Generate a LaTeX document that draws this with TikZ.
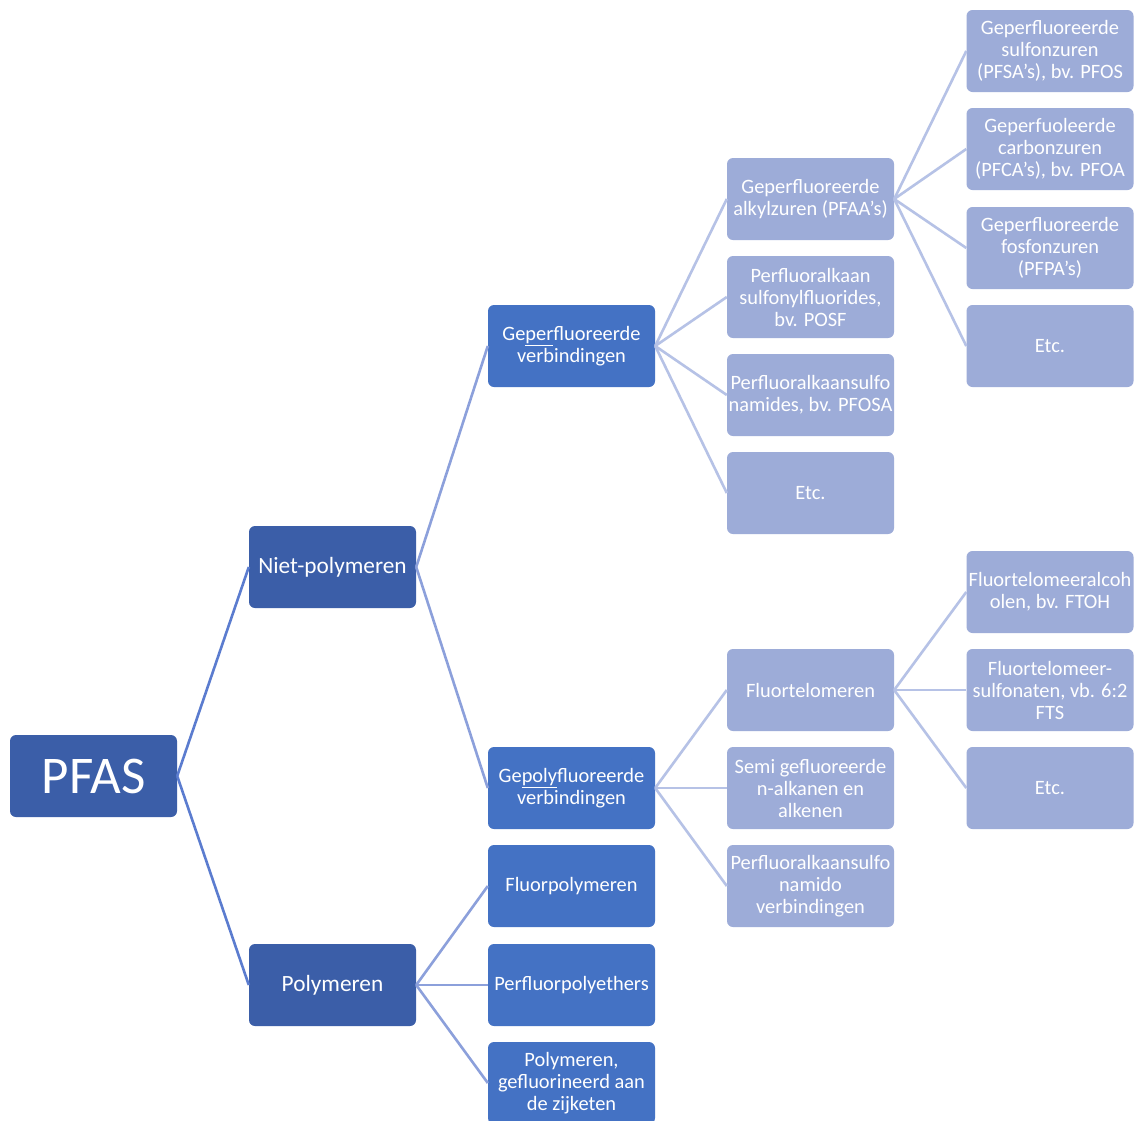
\documentclass[tikz,border=0pt]{standalone}
\usepackage{fontspec}
\setmainfont{Carlito}
\definecolor{cdark}{HTML}{3B5EA8}
\definecolor{cmid}{HTML}{4472C4}
\definecolor{clight}{HTML}{9DACD8}
\definecolor{lineA}{HTML}{5B7CCF}
\definecolor{lineB}{HTML}{8CA0DB}
\definecolor{lineC}{HTML}{B6C2E6}
\tikzset{
  box/.style={rounded corners=6pt, minimum width=167pt, minimum height=82pt, inner sep=0pt, text=white, align=center, font=\fontsize{20.4}{22}\selectfont},
  lzero/.style={box, fill=cdark, font=\fontsize{53}{60}\selectfont},
  lone/.style={box, fill=cdark, font=\fontsize{23.3}{26}\selectfont},
  ltwo/.style={box, fill=cmid},
  lthree/.style={box, fill=clight},
  conA/.style={draw=lineA, line width=2.6pt},
  conB/.style={draw=lineB, line width=2.6pt},
  conC/.style={draw=lineC, line width=2.6pt},
}
\newcommand{\myul}[1]{\underline{#1}}
\begin{document}
\begin{tikzpicture}[x=1pt,y=-1pt]
\clip (0,0) rectangle (1136,1120);
\useasboundingbox (0,0) rectangle (1136,1120);
\fill[white] (0,0) rectangle (1136,1120);
% nodes
\node[lzero] (pfas) at (93.5,776) {PFAS};
\node[lone] (niet) at (332.5,567) {Niet-polymeren};
\node[lone] (poly) at (332.5,985) {Polymeren};
\node[ltwo] (geper) at (571.5,346) {Ge\myul{per}fluoreerde\\verbindingen};
\node[ltwo] (gepoly) at (571.5,788) {Ge\myul{poly}fluoreerde\\verbindingen};
\node[ltwo] (fluorp) at (571.5,886) {Fluorpolymeren};
\node[ltwo] (pfpe) at (571.5,985) {Perfluorpolyethers};
\node[ltwo] (zij) at (571.5,1083) {Polymeren,\\gefluorineerd aan\\de zijketen};
\node[lthree] (pfaa) at (810.5,199) {Geperfluoreerde\\alkylzuren (PFAA’s)};
\node[lthree] (posf) at (810.5,297) {Perfluoralkaan\\sulfonylfluorides,\\bv. POSF};
\node[lthree] (pfosa) at (810.5,395) {Perfluoralkaansulfo\\namides, bv. PFOSA};
\node[lthree] (etc1) at (810.5,493) {Etc.};
\node[lthree] (ftel) at (810.5,690) {Fluortelomeren};
\node[lthree] (semi) at (810.5,788) {Semi gefluoreerde\\n-alkanen en\\alkenen};
\node[lthree] (amido) at (810.5,886) {Perfluoralkaansulfo\\namido\\verbindingen};
\node[lthree] (pfsa) at (1050,51) {Geperfluoreerde\\sulfonzuren\\(PFSA’s), bv. PFOS};
\node[lthree] (pfca) at (1050,149) {Geperfuoleerde\\carbonzuren\\(PFCA’s), bv. PFOA};
\node[lthree] (pfpa) at (1050,248) {Geperfluoreerde\\fosfonzuren\\(PFPA’s)};
\node[lthree] (etc2) at (1050,346) {Etc.};
\node[lthree] (ftoh) at (1050,592) {Fluortelomeeralcoh\\olen, bv. FTOH};
\node[lthree] (fts) at (1050,690) {Fluortelomeer-\\sulfonaten, vb. 6:2\\FTS};
\node[lthree] (etc3) at (1050,788) {Etc.};
% connectors
\draw[conA] (pfas.east) -- (niet.west);
\draw[conA] (pfas.east) -- (poly.west);
\draw[conB] (niet.east) -- (geper.west);
\draw[conB] (niet.east) -- (gepoly.west);
\draw[conB] (poly.east) -- (fluorp.west);
\draw[conB] (poly.east) -- (pfpe.west);
\draw[conB] (poly.east) -- (zij.west);
\draw[conC] (geper.east) -- (pfaa.west);
\draw[conC] (geper.east) -- (posf.west);
\draw[conC] (geper.east) -- (pfosa.west);
\draw[conC] (geper.east) -- (etc1.west);
\draw[conC] (gepoly.east) -- (ftel.west);
\draw[conC] (gepoly.east) -- (semi.west);
\draw[conC] (gepoly.east) -- (amido.west);
\draw[conC] (pfaa.east) -- (pfsa.west);
\draw[conC] (pfaa.east) -- (pfca.west);
\draw[conC] (pfaa.east) -- (pfpa.west);
\draw[conC] (pfaa.east) -- (etc2.west);
\draw[conC] (ftel.east) -- (ftoh.west);
\draw[conC] (ftel.east) -- (fts.west);
\draw[conC] (ftel.east) -- (etc3.west);
\end{tikzpicture}
\end{document}
